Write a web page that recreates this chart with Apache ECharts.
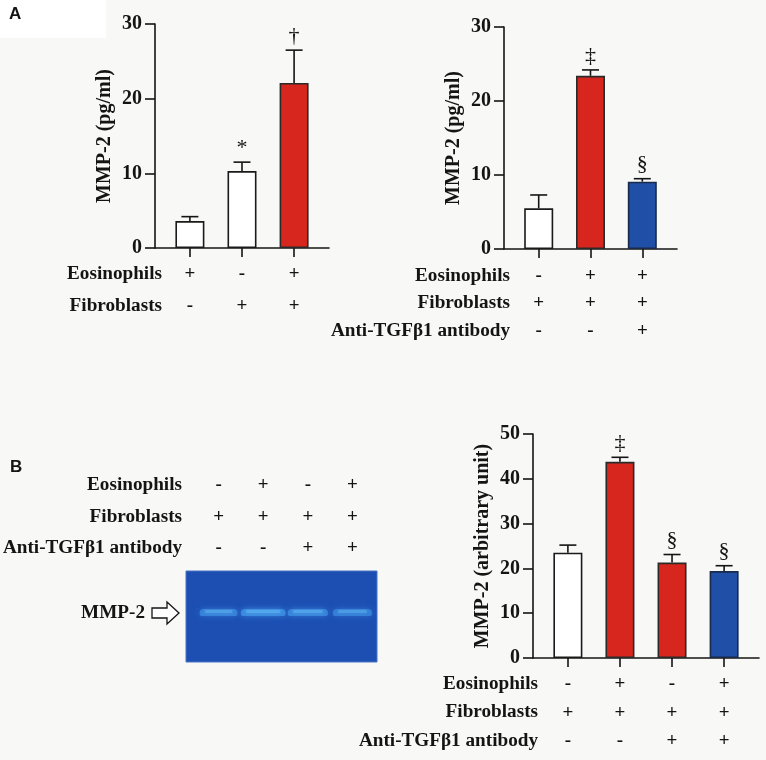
<!DOCTYPE html>
<html><head><meta charset="utf-8">
<script src="https://cdn.jsdelivr.net/npm/echarts@6/dist/echarts.min.js"></script>
<style>html,body{margin:0;padding:0;background:#f8f8f7}#c{width:766px;height:760px}</style>
</head><body><div id="c"></div><script>
// ---------- DATA ----------
// Panel A (left): MMP-2 (pg/ml)
const a1RowNames = ['Eosinophils', 'Fibroblasts'];
const a1Eos = ['+', '-', '+'];
const a1Fib = ['-', '+', '+'];
const a1Mean = [3.6, 10.3, 22.1];
const a1Sem = [0.6, 1.2, 4.4];
const a1Mark = ['', '*', '\u2020'];
const a1Group = ['ctrl', 'ctrl', 'eos'];

// Panel A (right)
const a2RowNames = ['Eosinophils', 'Fibroblasts', 'Anti-TGF\u03b21 antibody'];
const a2Eos = ['-', '+', '+'];
const a2Fib = ['+', '+', '+'];
const a2Anti = ['-', '-', '+'];
const a2Mean = [5.5, 23.4, 9.1];
const a2Sem = [1.8, 0.8, 0.4];
const a2Mark = ['', '\u2021', '\u00a7'];
const a2Group = ['ctrl', 'eos', 'anti'];

// Panel B (gel)
const gRowNames = ['Eosinophils', 'Fibroblasts', 'Anti-TGF\u03b21 antibody'];
const gEos = ['-', '+', '-', '+'];
const gFib = ['+', '+', '+', '+'];
const gAnti = ['-', '-', '+', '+'];
const gBandIntensity = [0.8, 0.95, 0.85, 0.75];
const gBandWidth = [0.85, 1.0, 0.9, 0.88];
const gBandPos = [0.55, 0.55, 0.55, 0.55];

// Panel B (right): MMP-2 (arbitrary unit)
const bRowNames = ['Eosinophils', 'Fibroblasts', 'Anti-TGF\u03b21 antibody'];
const bEos = ['-', '+', '-', '+'];
const bFib = ['+', '+', '+', '+'];
const bAnti = ['-', '-', '+', '+'];
const bMean = [23.5, 43.8, 21.3, 19.4];
const bSem = [1.7, 1.0, 1.8, 1.2];
const bMark = ['', '\u2021', '\u00a7', '\u00a7'];
const bGroup = ['ctrl', 'eos', 'eos', 'anti'];

const yTicksA = [0, 10, 20, 30];
const yTicksB = [0, 10, 20, 30, 40, 50];

// ---------- STYLE ----------
const SERIF = 'Liberation Serif';
const INK = '#141414';
const FILL = { ctrl: '#ffffff', eos: '#d6261d', anti: '#1f4fa6' };
const BORDER = { ctrl: '#1a1a1a', eos: '#2a2a2a', anti: '#1a2a4a' };

const chart = echarts.init(document.getElementById('c'));

const grids = [
  { left: 155, top: 24, width: 174, height: 224 },
  { left: 504, top: 27, width: 173, height: 222 },
  { left: 186, top: 571, width: 191, height: 91, show: true, backgroundColor: '#1d4fb3', borderColor: '#4a74c4', borderWidth: 1 },
  { left: 533, top: 434, width: 226, height: 224 }
];

function barXAxis(g, n, rows, margin, lh) {
  const vals = rows[0].map((_, i) => i);
  return {
    gridIndex: g, type: 'value', min: -0.67, max: n - 1 + 0.67,
    axisLine: { show: true, onZero: false, lineStyle: { color: INK, width: 1.6 } },
    axisTick: { show: true, customValues: vals, length: 9, lineStyle: { color: INK, width: 1.6 } },
    axisLabel: {
      show: true, customValues: vals, margin: margin, lineHeight: lh,
      formatter: v => rows.map(r => r[Math.round(v)]).join('\n'),
      fontFamily: SERIF, fontWeight: 'bold', fontSize: 19, color: INK
    },
    splitLine: { show: false }
  };
}
function barYAxis(g, ticks, name) {
  return {
    gridIndex: g, type: 'value', min: ticks[0], max: ticks[ticks.length - 1], interval: ticks[1] - ticks[0],
    axisLine: { show: true, onZero: false, lineStyle: { color: INK, width: 1.6 } },
    axisTick: { show: true, length: 10, lineStyle: { color: INK, width: 1.6 } },
    axisLabel: { margin: 13, fontFamily: SERIF, fontWeight: 'bold', fontSize: 20, color: INK },
    splitLine: { show: false },
    name: name, nameLocation: 'middle', nameGap: 40, nameRotate: 90,
    nameTextStyle: { fontFamily: SERIF, fontWeight: 'bold', fontSize: 20, color: INK }
  };
}
function barSeries(g, means, groups) {
  return {
    type: 'bar', xAxisIndex: g, yAxisIndex: g, barWidth: 29, z: 3,
    data: means.map((m, i) => ({
      value: [i, m],
      itemStyle: { color: FILL[groups[i]], borderColor: BORDER[groups[i]], borderWidth: 1.6 }
    }))
  };
}
function errSeries(g, means, sems, marks) {
  return {
    type: 'custom', xAxisIndex: g, yAxisIndex: g, z: 2,
    data: means.map((m, i) => [i, m, m + sems[i], i]),
    renderItem(params, api) {
      const x = api.value(0), m = api.value(1), e = api.value(2), idx = api.value(3);
      const p0 = api.coord([x, m]), p1 = api.coord([x, e]);
      const cap = 8.5;
      return {
        type: 'group', children: [
          { type: 'line', shape: { x1: p0[0], y1: p0[1], x2: p1[0], y2: p1[1] }, style: { stroke: INK, lineWidth: 1.6 } },
          { type: 'line', shape: { x1: p1[0] - cap, y1: p1[1], x2: p1[0] + cap, y2: p1[1] }, style: { stroke: INK, lineWidth: 1.6 } },
          { type: 'text', x: p1[0], y: p1[1] - 3,
            style: { text: marks[idx], fill: INK, fontFamily: SERIF, fontSize: 22, align: 'center', verticalAlign: 'bottom' } }
        ]
      };
    }
  };
}

const gelXAxis = {
  gridIndex: 2, type: 'value', min: -0.73, max: 3.55, position: 'top',
  axisLine: { show: false }, axisTick: { show: false }, splitLine: { show: false },
  axisLabel: {
    show: true, customValues: [0, 1, 2, 3], margin: 7, lineHeight: 31.5,
    formatter: v => [gEos, gFib, gAnti].map(r => r[Math.round(v)]).join('\n'),
    fontFamily: SERIF, fontWeight: 'bold', fontSize: 19, color: INK
  }
};
const gelYAxis = { gridIndex: 2, type: 'value', min: 0, max: 1, show: false };

const gelSeries = {
  type: 'custom', xAxisIndex: 2, yAxisIndex: 2, z: 3,
  data: gBandIntensity.map((v, i) => [i, gBandPos[i], v, gBandWidth[i]]),
  renderItem(params, api) {
    const c = api.coord([api.value(0), api.value(1)]);
    const w = api.size([api.value(3), 0])[0];
    const a = api.value(2);
    return {
      type: 'group', children: [
        { type: 'rect', shape: { x: c[0] - w / 2, y: c[1] - 3, width: w, height: 7, r: [4, 4, 2, 2] },
          style: { fill: 'rgba(65,150,232,' + (0.8 * a) + ')', shadowBlur: 6, shadowColor: 'rgba(65,150,232,' + (0.9 * a) + ')' } },
        { type: 'rect', shape: { x: c[0] - w / 2 + 5, y: c[1] - 2, width: w - 10, height: 3, r: 1.5 },
          style: { fill: 'rgba(100,185,242,' + (0.55 * a) + ')', shadowBlur: 4, shadowColor: 'rgba(100,185,242,' + (0.8 * a) + ')' } }
      ]
    };
  }
};

function txt(t, x, y, align, size, family, weight) {
  return {
    type: 'text', x: x, y: y,
    style: { text: t, fontFamily: family, fontSize: size, fontWeight: weight, fill: INK, align: align, verticalAlign: 'middle' }
  };
}
function rowText(names, right, ys) {
  return names.map((t, i) => txt(t, right, ys[i], 'right', 19.2, SERIF, 'bold'));
}

const option = {
  animation: false,
  backgroundColor: '#f8f8f7',
  grid: grids,
  xAxis: [
    barXAxis(0, 3, [a1Eos, a1Fib], 10, 32),
    barXAxis(1, 3, [a2Eos, a2Fib, a2Anti], 13, 27.5),
    gelXAxis,
    barXAxis(3, 4, [bEos, bFib, bAnti], 12, 28.5)
  ],
  yAxis: [
    barYAxis(0, yTicksA, 'MMP-2 (pg/ml)'),
    barYAxis(1, yTicksA, 'MMP-2 (pg/ml)'),
    gelYAxis,
    barYAxis(3, yTicksB, 'MMP-2 (arbitrary unit)')
  ],
  series: [
    errSeries(0, a1Mean, a1Sem, a1Mark), barSeries(0, a1Mean, a1Group),
    errSeries(1, a2Mean, a2Sem, a2Mark), barSeries(1, a2Mean, a2Group),
    gelSeries,
    errSeries(3, bMean, bSem, bMark), barSeries(3, bMean, bGroup)
  ],
  graphic: [
    { type: 'rect', left: 0, top: 0, shape: { width: 106, height: 38 }, style: { fill: '#ffffff' }, z: -10 },
    txt('A', 9, 14, 'left', 17, 'Liberation Sans', 'bold'),
    txt('B', 10, 467, 'left', 17, 'Liberation Sans', 'bold'),
    ...rowText(a1RowNames, 162, [274, 306]),
    ...rowText(a2RowNames, 510, [276, 303, 331]),
    ...rowText(gRowNames, 182, [485, 517, 548]),
    ...rowText(bRowNames, 538, [684, 712, 741]),
    txt('MMP-2', 145, 613, 'right', 19.2, SERIF, 'bold'),
    { type: 'polygon', shape: { points: [[152, 608], [167, 608], [167, 602], [179, 613], [167, 624], [167, 618], [152, 618]] },
      style: { fill: '#ffffff', stroke: INK, lineWidth: 1.3 } }
  ]
};
chart.setOption(option);
</script></body></html>
